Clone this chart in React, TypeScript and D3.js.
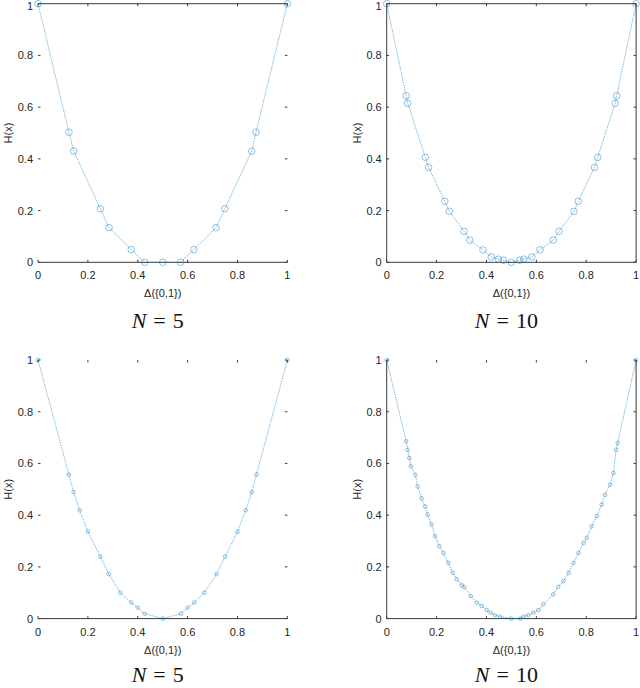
import { useRef, useEffect } from 'react';
import * as d3 from 'd3';

// N = 5, circles (top left)
const topN5X = [0, 0.124, 0.143, 0.25, 0.285, 0.374, 0.428, 0.5, 0.572, 0.625, 0.714, 0.749, 0.857, 0.874, 1];
const topN5Y = [1, 0.503, 0.43, 0.207, 0.134, 0.049, 0, 0, 0, 0.049, 0.134, 0.207, 0.43, 0.503, 1];

// N = 10, circles (top right)
const topN10X = [0, 0.078, 0.084, 0.155, 0.168, 0.233, 0.251, 0.31, 0.333, 0.386, 0.419, 0.448, 0.468, 0.5,
  0.533, 0.55, 0.582, 0.615, 0.668, 0.691, 0.751, 0.768, 0.833, 0.846, 0.916, 0.922, 1];
const topN10Y = [1, 0.644, 0.615, 0.406, 0.367, 0.236, 0.197, 0.12, 0.086, 0.048, 0.021, 0.012, 0.008, 0,
  0.008, 0.012, 0.021, 0.048, 0.086, 0.12, 0.197, 0.236, 0.367, 0.406, 0.615, 0.644, 1];

// N = 5, small markers (bottom left)
const botN5X = [0, 0.124, 0.143, 0.167, 0.2, 0.25, 0.284, 0.33, 0.374, 0.4, 0.427, 0.5,
  0.573, 0.6, 0.626, 0.667, 0.716, 0.75, 0.8, 0.833, 0.857, 0.876, 1];
const botN5Y = [1, 0.557, 0.489, 0.419, 0.336, 0.24, 0.172, 0.1, 0.062, 0.042, 0.019, 0,
  0.019, 0.042, 0.062, 0.1, 0.172, 0.24, 0.336, 0.419, 0.489, 0.557, 1];

// N = 10, small markers (bottom right)
const botN10X = [0, 0.078, 0.084, 0.091, 0.097, 0.115, 0.124, 0.14, 0.154, 0.164, 0.18, 0.194, 0.211, 0.227,
  0.247, 0.265, 0.281, 0.301, 0.311, 0.337, 0.361, 0.381, 0.401, 0.417, 0.434, 0.455, 0.499, 0.535,
  0.548, 0.568, 0.588, 0.608, 0.628, 0.668, 0.688, 0.709, 0.729, 0.749, 0.769, 0.789, 0.802, 0.822,
  0.842, 0.862, 0.876, 0.896, 0.909, 0.92, 0.926, 1];
const botN10Y = [1, 0.686, 0.653, 0.621, 0.589, 0.556, 0.511, 0.465, 0.434, 0.402, 0.364, 0.319, 0.28, 0.254,
  0.216, 0.177, 0.152, 0.129, 0.122, 0.087, 0.062, 0.049, 0.033, 0.023, 0.013, 0.008, 0, 0,
  0.008, 0.013, 0.023, 0.033, 0.055, 0.094, 0.123, 0.145, 0.177, 0.216, 0.254, 0.293, 0.312, 0.357,
  0.396, 0.441, 0.479, 0.518, 0.563, 0.653, 0.679, 1];

const ticks = [0, 0.2, 0.4, 0.6, 0.8, 1];
const tickLabels = ['0', '0.2', '0.4', '0.6', '0.8', '1'];

type Panel = {
  xs: number[];
  ys: number[];
  n: string;
  left: number;
  top: number;
  r: number;
  sides: string[];
};

const panels: Panel[] = [
  { xs: topN5X, ys: topN5Y, n: '5', left: 38, top: 3.7, r: 3.3, sides: ['top', 'bottom'] },
  { xs: topN10X, ys: topN10Y, n: '10', left: 386.7, top: 3.7, r: 3.3, sides: ['top', 'bottom', 'left', 'right'] },
  { xs: botN5X, ys: botN5Y, n: '5', left: 38, top: 360, r: 1.8, sides: ['bottom'] },
  { xs: botN10X, ys: botN10Y, n: '10', left: 386.7, top: 360, r: 1.8, sides: ['bottom', 'left', 'right'] },
];

const PW = 249.4;
const PH = 258.6;
const blue = '#0072BD';
const ink = '#262626';
const font = '"Liberation Sans", Arial, sans-serif';

export default function App() {
  const ref = useRef<SVGSVGElement>(null);

  useEffect(() => {
    const svg = d3.select(ref.current);
    svg.selectAll('*').remove();

    panels.forEach((p) => {
      const x = d3.scaleLinear().domain([0, 1]).range([p.left, p.left + PW]);
      const y = d3.scaleLinear().domain([0, 1]).range([p.top + PH, p.top]);
      const g = svg.append('g');

      // box sides (the reference only shows some of them)
      const sideLines: Record<string, [number, number, number, number]> = {
        top: [x(0), y(1), x(1), y(1)],
        bottom: [x(0), y(0), x(1), y(0)],
        left: [x(0), y(0), x(0), y(1)],
        right: [x(1), y(0), x(1), y(1)],
      };
      p.sides.forEach((s) => {
        const [x1, y1, x2, y2] = sideLines[s];
        g.append('line').attr('x1', x1).attr('y1', y1).attr('x2', x2).attr('y2', y2)
          .attr('stroke', '#3a3a3a').attr('stroke-width', 1);
      });

      // inward ticks on all four sides
      const tl = 2.5;
      ticks.forEach((t) => {
        g.append('line').attr('x1', x(t)).attr('x2', x(t)).attr('y1', y(0)).attr('y2', y(0) - tl)
          .attr('stroke', '#3a3a3a').attr('stroke-width', 1);
        g.append('line').attr('x1', x(t)).attr('x2', x(t)).attr('y1', y(1)).attr('y2', y(1) + tl)
          .attr('stroke', '#3a3a3a').attr('stroke-width', 1);
        g.append('line').attr('x1', x(0)).attr('x2', x(0) + tl).attr('y1', y(t)).attr('y2', y(t))
          .attr('stroke', '#3a3a3a').attr('stroke-width', 1);
        g.append('line').attr('x1', x(1)).attr('x2', x(1) - tl).attr('y1', y(t)).attr('y2', y(t))
          .attr('stroke', '#3a3a3a').attr('stroke-width', 1);
      });

      // tick labels
      ticks.forEach((t, i) => {
        g.append('text').attr('x', x(t)).attr('y', y(0) + 17).attr('text-anchor', 'middle')
          .attr('fill', ink).style('font-family', font).style('font-size', '11px').text(tickLabels[i]);
        g.append('text').attr('x', x(0) - 5).attr('y', Math.max(y(t) + 4, 10))
          .attr('text-anchor', 'end')
          .attr('fill', ink).style('font-family', font).style('font-size', '11px').text(tickLabels[i]);
      });

      // axis labels
      g.append('text').attr('x', (x(0) + x(1)) / 2).attr('y', y(0) + 35).attr('text-anchor', 'middle')
        .attr('fill', ink).style('font-family', font).style('font-size', '11px').text('Δ({0,1})');
      g.append('text')
        .attr('transform', `translate(${x(0) - 26},${(y(0) + y(1)) / 2}) rotate(-90)`)
        .attr('text-anchor', 'middle').attr('fill', ink)
        .style('font-family', font).style('font-size', '11px').text('H(x)');

      // caption, math style spacing around "="
      const cap = g.append('text').attr('x', (x(0) + x(1)) / 2 - 5)
        .attr('y', Math.min(y(0) + 66, 682))
        .attr('text-anchor', 'middle').attr('fill', '#111')
        .style('font-family', '"Liberation Serif", "DejaVu Serif", serif').style('font-size', '22px');
      cap.append('tspan').style('font-style', 'italic').text('N');
      cap.append('tspan').attr('dx', 7).text('=');
      cap.append('tspan').attr('dx', 7).text(p.n);

      // curve
      const pts = p.xs.map((v, i) => [v, p.ys[i]] as [number, number]);
      const line = d3.line<[number, number]>().x((d) => x(d[0])).y((d) => y(d[1]));
      g.append('path').datum(pts).attr('d', line).attr('fill', 'none')
        .attr('stroke', blue).attr('stroke-opacity', 0.65).attr('stroke-width', 0.8)
        .attr('stroke-dasharray', '1.5,1');

      g.selectAll('circle.pt').data(pts).enter().append('circle').attr('class', 'pt')
        .attr('cx', (d) => x(d[0])).attr('cy', (d) => y(d[1])).attr('r', p.r)
        .attr('fill', 'none').attr('stroke', blue).attr('stroke-opacity', 0.55).attr('stroke-width', 0.8);
    });
  }, []);

  return (
    <svg
      ref={ref}
      width={640}
      height={688}
      style={{ position: 'absolute', left: 0, top: 0, background: '#fff' }}
    />
  );
}
